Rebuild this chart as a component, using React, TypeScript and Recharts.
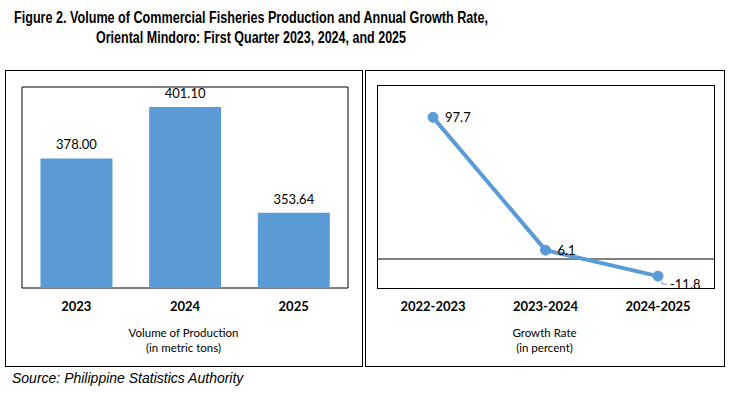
import React from "react"
import {
  BarChart,
  Bar,
  XAxis,
  YAxis,
  LineChart,
  Line,
  LabelList,
  ReferenceArea,
  ReferenceLine,
} from "recharts"

// Volume of production (metric tons)
const years = ["2023", "2024", "2025"]
const volume = [378.0, 401.1, 353.64]

// Growth rate (percent)
const periods = ["2022-2023", "2023-2024", "2024-2025"]
const growth = [97.7, 6.1, -11.8]

const BLUE = "#5B9BD5"
const FONT = "Lato, 'Noto Sans', sans-serif"

const volumeData = years.map((year, i) => ({ year, volume: volume[i] }))
const growthData = periods.map((period, i) => ({ period, growth: growth[i] }))

const GrowthLabel = (props) => {
  const { x, y, value, index } = props
  const last = index === growthData.length - 1
  return (
    <g>
      {last && <path d={`M${x + 4},${y + 5} L${x + 4},${y + 8} L${x + 9},${y + 8}`} stroke="#999" fill="none" />}
      <text x={x + 12} y={last ? y + 8 : y} dy="0.35em" fontSize={13} fontFamily={FONT} fill="#000">
        {value.toFixed(1)}
      </text>
    </g>
  )
}

export default function App() {
  return (
    <div style={{ position: "absolute", left: 0, top: 0, width: 730, height: 393, background: "#fff", fontFamily: FONT }}>
      <svg width={730} height={50} style={{ position: "absolute", left: 0, top: 0 }}>
        <g fontFamily="'Liberation Sans', Arial, sans-serif" fontWeight="bold" fontSize={16} fill="#000">
          <text x={14} y={23} textLength={474} lengthAdjust="spacingAndGlyphs">
            Figure 2. Volume of Commercial Fisheries Production and Annual Growth Rate,
          </text>
          <text x={96} y={43} textLength={310} lengthAdjust="spacingAndGlyphs">
            Oriental Mindoro: First Quarter 2023, 2024, and 2025
          </text>
        </g>
      </svg>

      {/* left panel */}
      <div style={{ position: "absolute", left: 5, top: 70, width: 356, height: 295, border: "1px solid #000" }} />
      <div style={{ position: "absolute", left: 5, top: 70 }}>
        <BarChart width={357} height={296} data={volumeData} margin={{ top: 17, right: 14, left: 17, bottom: 48 }} barCategoryGap="17%">
          <XAxis
            dataKey="year"
            axisLine={false}
            tickLine={false}
            height={30}
            tick={{ fontSize: 13, fontWeight: "bold", fill: "#000", fontFamily: FONT }}
            tickMargin={8}
          />
          <YAxis hide domain={[320, 410]} />
          <ReferenceArea y1={320} y2={410} fill="none" stroke="#000" strokeWidth={1} />
          <Bar dataKey="volume" fill={BLUE} isAnimationActive={false}>
            <LabelList
              dataKey="volume"
              position="top"
              offset={9}
              formatter={(v) => v.toFixed(2)}
              style={{ fontSize: 13, fill: "#000", fontFamily: FONT }}
            />
          </Bar>
        </BarChart>
      </div>
      <div style={{ position: "absolute", left: 5, width: 357, top: 325, textAlign: "center", fontSize: 11.5, lineHeight: "15px", color: "#000" }}>
        Volume of Production
        <br />
        (in metric tons)
      </div>

      {/* right panel */}
      <div style={{ position: "absolute", left: 365, top: 70, width: 358, height: 295, border: "1px solid #000" }} />
      {/* plot frame */}
      <div style={{ position: "absolute", left: 377, top: 85, width: 336, height: 202, border: "1px solid #000" }} />
      <div style={{ position: "absolute", left: 365, top: 70 }}>
        <LineChart width={359} height={296} data={growthData} margin={{ top: 15, right: 10, left: 12, bottom: 48 }}>
          <XAxis
            dataKey="period"
            axisLine={false}
            tickLine={false}
            height={30}
            padding={{ left: 56, right: 56 }}
            tick={{ fontSize: 13, fontWeight: "bold", fill: "#000", fontFamily: FONT }}
            tickMargin={8}
          />
          <YAxis hide domain={[-20, 120]} />
          <ReferenceLine y={0} stroke="#000" strokeWidth={1} />
          <Line
            dataKey="growth"
            stroke={BLUE}
            strokeWidth={4}
            dot={{ r: 5, fill: BLUE, stroke: BLUE, strokeWidth: 1 }}
            isAnimationActive={false}
          >
            <LabelList dataKey="growth" content={GrowthLabel} />
          </Line>
        </LineChart>
      </div>
      <div style={{ position: "absolute", left: 365, width: 359, top: 325, textAlign: "center", fontSize: 11.5, lineHeight: "15px", color: "#000" }}>
        Growth Rate
        <br />
        (in percent)
      </div>

      <div
        style={{
          position: "absolute",
          left: 12,
          top: 370,
          fontFamily: "'Liberation Sans', Arial, sans-serif",
          fontStyle: "italic",
          fontSize: 14,
          color: "#000",
        }}
      >
        Source: Philippine Statistics Authority
      </div>
    </div>
  )
}
